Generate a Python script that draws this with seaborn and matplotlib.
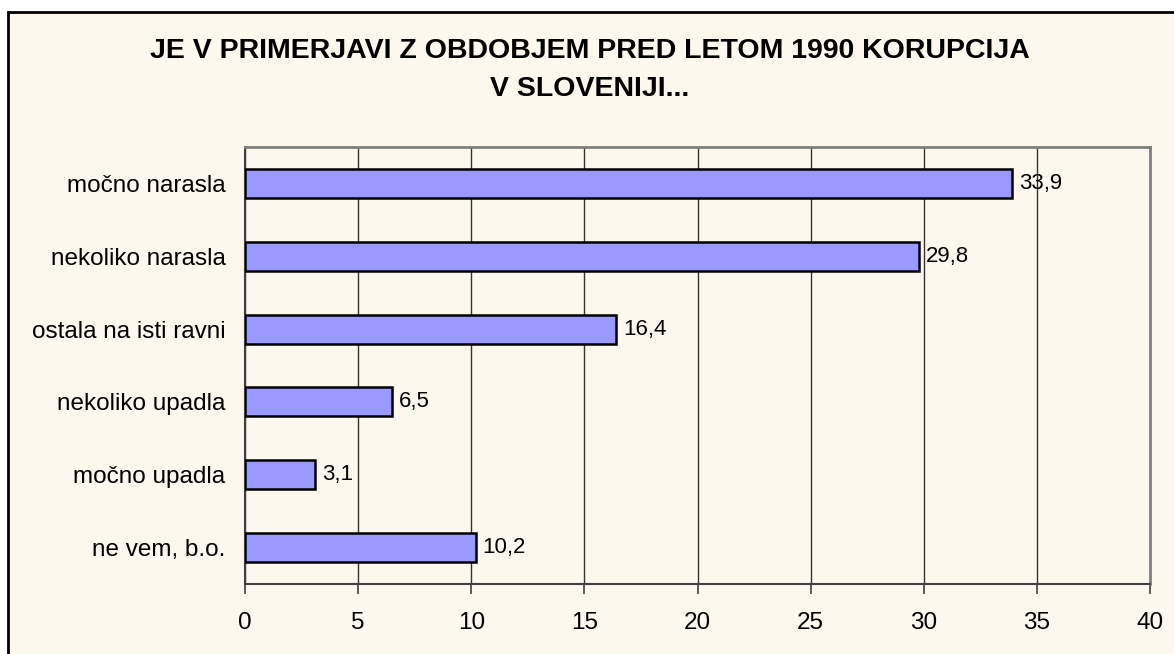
import matplotlib
matplotlib.use("Agg")
import matplotlib.pyplot as plt
import seaborn as sns
import pandas as pd
import numpy as np
from matplotlib.patches import Rectangle

categories = ["močno narasla", "nekoliko narasla", "ostala na isti ravni",
              "nekoliko upadla", "močno upadla", "ne vem, b.o."]
values = [33.9, 29.8, 16.4, 6.5, 3.1, 10.2]
xticks = [0, 5, 10, 15, 20, 25, 30, 35, 40]
title = "JE V PRIMERJAVI Z OBDOBJEM PRED LETOM 1990 KORUPCIJA\nV SLOVENIJI..."

sns.set_theme(style="white")
plt.rcParams['font.family'] = ['Liberation Sans', 'DejaVu Sans']
plt.rcParams['text.color'] = 'black'
plt.rcParams['xtick.color'] = 'black'
plt.rcParams['ytick.color'] = 'black'

bg = "#FDF8EE"
W, H = 1174, 654
fig = plt.figure(figsize=(W / 100, H / 100), dpi=100, facecolor="white")
fig.patches.append(Rectangle((8 / W, -0.1), 1.2, (H - 12) / H + 0.1,
                             transform=fig.transFigure, facecolor=bg,
                             edgecolor="black", linewidth=2, zorder=-10))

ax = fig.add_axes([245 / W, 1 - 584 / H, (1150 - 245) / W, (584 - 147) / H])
ax.set_facecolor(bg)

df = pd.DataFrame({"kategorija": categories, "vrednost": values})
sns.barplot(data=df, x="vrednost", y="kategorija", orient="h", ax=ax,
            color="#9999FF", saturation=1, width=0.4,
            edgecolor="black", linewidth=1.8, zorder=3)

ax.set_xlim(0, 40)
ax.set_ylim(len(categories) - 0.5, -0.5)
ax.set_xticks(xticks)
ax.set_xticklabels([str(t) for t in xticks], fontsize=17.5, color="black")
ax.set_yticks(np.arange(len(categories)))
ax.set_yticklabels(categories, fontsize=17.5, color="black")
ax.set_xlabel("")
ax.set_ylabel("")

ax.grid(axis="x", color="#333333", linewidth=1, zorder=0)
ax.grid(axis="y", visible=False)
ax.set_axisbelow(True)

# y ticks at category boundaries
ax.tick_params(axis="y", which="major", length=0, pad=14)
ax.set_yticks(np.arange(len(categories) + 1) - 0.5, minor=True)
ax.tick_params(axis="y", which="minor", length=7, width=1.2, color="#404040", direction="out")
ax.tick_params(axis="x", which="major", length=7, width=1.2, color="#404040",
               direction="out", pad=13, bottom=True)

for s in ["top", "right"]:
    ax.spines[s].set_color("#808080")
    ax.spines[s].set_linewidth(2)
for s in ["left", "bottom"]:
    ax.spines[s].set_color("#404040")
    ax.spines[s].set_linewidth(1.5)
for s in ax.spines.values():
    s.set_visible(True)

for i, v in enumerate(values):
    ax.annotate(f"{v:.1f}".replace(".", ","), xy=(v, i), xytext=(5, 0),
                textcoords="offset points", va="center", ha="left", fontsize=16,
                color="black", zorder=5)

fig.text(590 / W, 1 - 70 / H, title, ha="center", va="center",
         fontsize=20.5, fontweight="bold", linespacing=1.6, color="black")

fig.savefig("out.png", dpi=100, facecolor=fig.get_facecolor())
